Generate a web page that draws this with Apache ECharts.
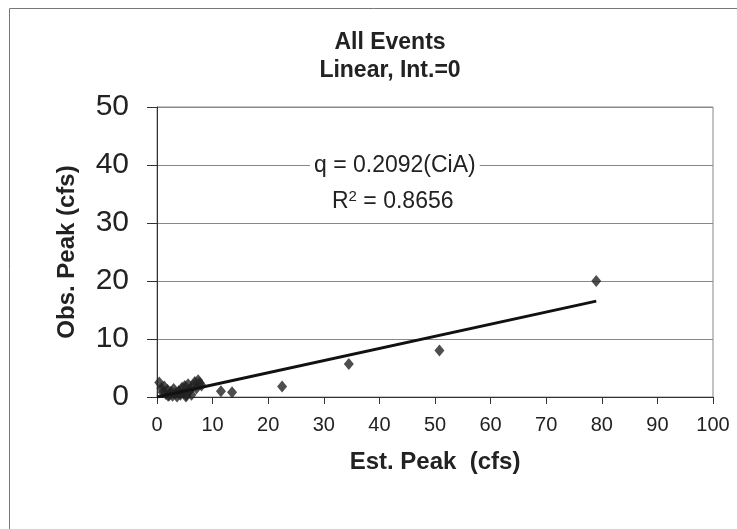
<!DOCTYPE html>
<html>
<head>
<meta charset="utf-8">
<script src="https://cdn.jsdelivr.net/npm/echarts@6/dist/echarts.min.js"></script>
<style>
  html, body { margin: 0; padding: 0; background: #fff; }
  #chart { width: 737px; height: 529px; }
</style>
</head>
<body>
<div id="chart"></div>
<script>
const estPeak = [0.4, 0.8, 1.0, 1.3, 1.6, 1.9, 2.2, 2.5, 2.8, 3.0, 3.3, 3.6, 3.9, 4.2, 4.5, 4.8,
                 5.0, 5.3, 5.6, 5.9, 6.2, 6.5, 6.8, 7.1, 7.4, 7.7, 8.0, 2.0, 4.0, 6.0, 5.2,
                 11.5, 13.5, 22.5, 34.5, 50.8, 79.0];
const obsPeak = [2.5, 1.5, 0.8, 1.8, 0.5, 1.2, 0.3, 0.9, 0.2, 1.4, 0.6, 0.1, 1.0, 0.4, 1.6, 0.7,
                 1.9, 0.3, 2.2, 1.1, 0.4, 2.0, 2.6, 1.5, 2.9, 2.4, 2.0, 0.2, 0.9, 1.3, 0.1,
                 1.0, 0.8, 1.8, 5.7, 8.0, 20.0];
const slope = 0.2092;
const rSquared = 0.8656;
const xTicks = [0, 100, 10];
const yTicks = [0, 50, 10];

const points = estPeak.map((x, i) => [x, obsPeak[i]]);
const xEnd = Math.max(...estPeak);
const trend = [[0, 0], [xEnd, slope * xEnd]];

const chart = echarts.init(document.getElementById('chart'), null, { renderer: 'canvas' });

const font = 'Liberation Sans, Arial, sans-serif';

chart.setOption({
  backgroundColor: '#fff',
  animation: false,
  title: {
    text: 'All Events\nLinear, Int.=0',
    left: 385, top: 24, textAlign: 'center',
    textStyle: { fontFamily: font, fontWeight: 'bold', fontSize: 23, lineHeight: 28, color: '#222' }
  },
  grid: {
    left: 157, top: 107, right: 24, bottom: 132,
    show: true, borderColor: '#888', borderWidth: 1, backgroundColor: 'transparent'
  },
  xAxis: {
    type: 'value', min: xTicks[0], max: xTicks[1], interval: xTicks[2],
    name: 'Est. Peak  (cfs)', nameLocation: 'middle', nameGap: 53,
    nameTextStyle: { fontFamily: font, fontWeight: 'bold', fontSize: 24, color: '#222' },
    axisLine: { onZero: false, lineStyle: { color: '#333', width: 1 } },
    axisTick: { show: true, inside: false, length: 7, lineStyle: { color: '#333' } },
    axisLabel: { fontFamily: font, fontSize: 20, color: '#222', margin: 18 },
    splitLine: { show: false }
  },
  yAxis: {
    type: 'value', min: yTicks[0], max: yTicks[1], interval: yTicks[2],
    name: 'Obs. Peak (cfs)', nameLocation: 'middle', nameGap: 78, nameRotate: 90,
    nameTextStyle: { fontFamily: font, fontWeight: 'bold', fontSize: 24, color: '#222' },
    axisLine: { onZero: false, lineStyle: { color: '#333', width: 1 } },
    axisTick: { show: true, inside: false, length: 10, lineStyle: { color: '#333' } },
    axisLabel: { fontFamily: font, fontSize: 30, color: '#222', margin: 28 },
    splitLine: { show: true, lineStyle: { color: '#888', width: 1 } }
  },
  series: [
    {
      type: 'scatter', data: points, symbol: 'diamond', symbolSize: [10, 12],
      itemStyle: { color: '#222' }, z: 3
    },
    {
      type: 'line', data: trend, showSymbol: false, symbol: 'none',
      lineStyle: { color: '#111', width: 3 }, z: 4
    }
  ],
  graphic: [
    {
      type: 'rect', left: 7, top: 6, silent: true,
      shape: { width: 760, height: 540 },
      style: { fill: 'none', stroke: '#777', lineWidth: 1 }
    },
    {
      type: 'text', x: 310, y: 166, z: 10,
      style: {
        text: 'q = ' + slope.toFixed(4) + '(CiA)', align: 'left', verticalAlign: 'middle',
        font: '23px ' + font, fill: '#222', backgroundColor: '#fff', padding: [2, 4]
      }
    },
    {
      type: 'text', x: 332, y: 202, z: 10,
      style: {
        text: '{r|R}{s|2}{r| = ' + rSquared.toFixed(4) + '}', align: 'left', verticalAlign: 'middle',
        rich: {
          r: { font: '23px ' + font, fill: '#222' },
          s: { font: '15px ' + font, fill: '#222', verticalAlign: 'top', padding: [0, 0, 11, 0] }
        }
      }
    }
  ]
});
</script>
</body>
</html>
